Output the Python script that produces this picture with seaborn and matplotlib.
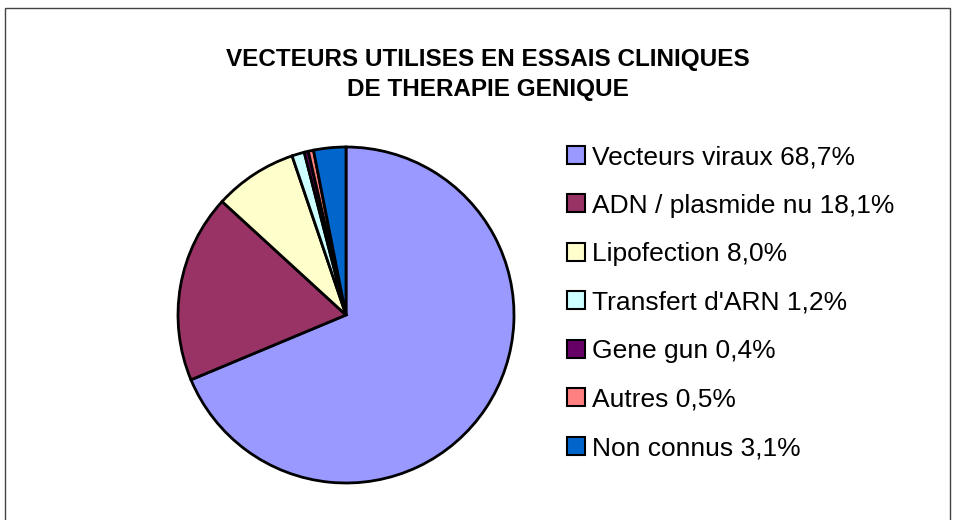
import matplotlib
matplotlib.use("Agg")
import matplotlib.pyplot as plt
import seaborn as sns
from matplotlib.lines import Line2D
from matplotlib.patches import Rectangle

# Data
labels = ["Vecteurs viraux", "ADN / plasmide nu", "Lipofection", "Transfert d'ARN",
          "Gene gun", "Autres", "Non connus"]
shares = [68.7, 18.1, 8.0, 1.2, 0.4, 0.5, 3.1]
colors = ["#9999FF", "#993366", "#FFFFCC", "#CCFFFF", "#660066", "#FF8080", "#0066CC"]
title = "VECTEURS UTILISES EN ESSAIS CLINIQUES\nDE THERAPIE GENIQUE"

sns.set_theme(style="white")
plt.rcParams['font.family'] = ['Liberation Sans', 'DejaVu Sans']
plt.rcParams['text.color'] = 'black'

fig = plt.figure(figsize=(9.56, 5.2), dpi=100)

# pie area: centre ~ (346, 315) px, radius ~168 px
cx, cy, r = 346, 315, 168
ax = fig.add_axes([(cx - r) / 956, (520 - cy - r) / 520, 2 * r / 956, 2 * r / 520])
wedges, _ = ax.pie(shares, colors=colors, startangle=90, counterclock=False,
                   wedgeprops=dict(edgecolor="black", linewidth=2))
ax.set_xlim(-1, 1)
ax.set_ylim(-1, 1)
ax.set_aspect("equal")
ax.axis("off")

fig.text(0.51, 0.857, title, ha="center", va="center", fontsize=17.5,
         fontweight="bold", linespacing=1.4, color="black")

handles = [Line2D([], [], linestyle="none", marker="s", markersize=13,
                  markerfacecolor=c, markeredgecolor="black", markeredgewidth=1.5)
           for c in colors]
legend_labels = [f"{l} {str(v).replace('.', ',')}%" for l, v in zip(labels, shares)]
leg = fig.legend(handles, legend_labels, loc="upper left",
                 bbox_to_anchor=(566 / 956, 1 - 145 / 520),
                 frameon=False, fontsize=19, handlelength=0.75, handletextpad=0.25,
                 labelspacing=0.93, borderaxespad=0, borderpad=0)
for t in leg.get_texts():
    t.set_color("black")

fig.patches.append(Rectangle((5 / 956, -0.01), 945 / 956, 1.01 - 8 / 520,
                             transform=fig.transFigure, fill=False,
                             edgecolor="#444444", linewidth=1))

fig.savefig("out.png", dpi=100)
